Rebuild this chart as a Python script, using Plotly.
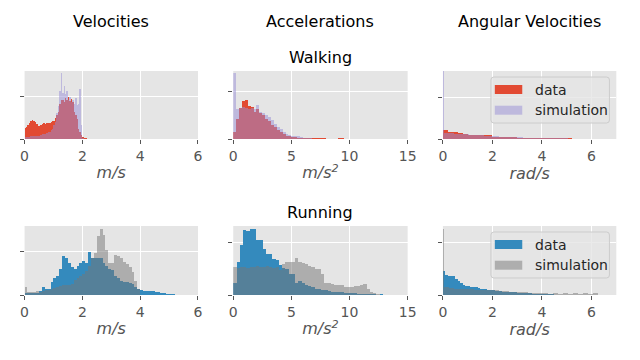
import numpy as np
import plotly.graph_objects as go

# ---------------- data (bar heights in % of each panel's y-range) ----------------
# Walking - velocities (m/s)
walk_vel_edges = np.round(np.arange(0, 44) * 0.05, 3)
walk_vel_data = [16, 18, 20, 24, 27, 28, 26, 25, 22, 19,
                 19, 20, 22, 23, 22, 23, 24, 23, 25, 27,
                 27, 31, 35, 40, 52, 57, 58, 55, 60, 58,
                 62, 56, 59, 55, 40, 36, 30, 15, 10, 6,
                 3, 2, 1]
walk_vel_sim = [3, 3, 3, 3, 4, 4, 4, 4, 4, 5,
                5, 6, 7, 7, 8, 9, 10, 11, 13, 15,
                20, 25, 38, 48, 70, 97, 68, 78, 66, 70,
                58, 62, 55, 58, 52, 60, 50, 52, 74, 20,
                2, 0, 0]

# Walking - accelerations (m/s^2)
walk_acc_edges = np.round(np.arange(0, 41) * 0.25, 3)
walk_acc_data = [10, 30, 45, 56, 57, 48, 47, 40,
                 44, 38, 35, 30, 26, 21, 17, 13,
                 10, 7, 5, 4, 3, 3, 2, 2,
                 2, 1, 1, 1, 1, 1, 1, 1,
                 0, 0, 0, 0, 1, 1, 0, 0]
walk_acc_sim = [97, 44, 45, 47, 45, 44, 46, 44,
                50, 40, 38, 35, 32, 28, 22, 18,
                14, 10, 8, 6, 5, 4, 4, 3,
                2, 1.5, 1, 0.5, 0.5, 0, 0, 0,
                0, 0, 0, 0, 0, 0, 0, 0]

# Walking - angular velocities (rad/s)
walk_ang_data_edges = np.round(np.arange(0, 28) * 0.2, 3)
walk_ang_data = [12.7, 11, 11, 9, 8, 6.5, 6, 6, 6, 5.5,
                 3.5, 3.5, 3.5, 3.5, 2.5, 2, 2, 2, 2, 2,
                 1.2, 1.2, 1.2, 1.2, 1, 1, 0.5]
walk_ang_sim_edges = np.round(np.concatenate([[0], 0.05 + np.arange(0, 27) * 0.2]), 3)
walk_ang_sim = [100, 9, 8.5, 8, 7.5, 7, 6.5, 6, 5.5, 5, 4.5,
                4, 3.5, 3, 3, 2.5, 2.5, 2, 2, 2, 1.5,
                1.5, 1.5, 1, 1, 1, 0.5]

# Running - velocities (m/s)
run_vel_edges = np.round(np.arange(0, 53) * 0.1, 3)
run_vel_data = [2.5, 2.5, 2.5, 3.5, 3.5, 6, 12, 9, 8, 19.5,
                24, 27, 38, 56, 54, 47, 41, 37, 42, 47,
                49, 47, 63, 53, 53, 53, 53, 47, 42, 38,
                36, 28, 24, 21, 19.5, 18.5, 18, 15.6, 12, 8,
                7, 6.5, 6, 5.5, 5.5, 5, 4.5, 3.4, 3.2, 2,
                1.5, 1]
run_vel_sim = [11, 4, 5, 4, 5.5, 5, 6, 7, 7, 8,
               10, 11, 13, 14, 14, 14, 16, 22, 25, 28,
               30, 35, 42, 53, 61, 85, 95, 87, 65, 47,
               47, 58, 57, 53, 48, 45, 40, 33, 20, 8,
               0, 0, 0, 0, 0, 0, 0, 0, 0, 0,
               0, 0]

# Running - accelerations (m/s^2)
run_acc_edges = np.round(np.arange(0, 54) * 0.28, 3)
run_acc_data = [17, 48, 73, 94, 93, 96, 96, 80, 80, 67,
                60, 59, 52, 51, 43, 39, 38, 30, 30, 18,
                20, 17, 15, 13, 11, 9, 8, 7, 7, 5.5,
                5, 4.5, 4.4, 4, 3.4, 3.4, 3.4, 3, 2, 2,
                2, 1.2, 1.2, 1, 0.5, 1, 0, 0.6, 0, 0.6,
                0, 0.6, 0]
run_acc_sim = [40, 39, 40, 40, 39, 40, 41, 42, 40, 41,
               42, 41, 39, 40, 36, 45, 48, 48, 48, 54,
               48, 46, 45, 42, 40, 38, 38, 30, 18, 18,
               16, 15, 15, 15, 12, 11, 11, 13, 13, 14,
               15.6, 8, 4.4, 2.4, 1.5, 0.5, 0.5, 0, 0, 0,
               0, 0, 0]

# Running - angular velocities (rad/s)
run_ang_data_edges = np.round(np.arange(0, 47) * 0.1, 3)
run_ang_data = [35, 29, 28, 28, 27, 23, 20, 17, 15, 13,
                13, 11, 11, 11, 10, 9, 9, 8, 7, 7,
                7, 6, 6, 6, 5, 4.5, 4.4, 4.4, 4, 4,
                3, 3, 3, 3, 3, 3,
                2, 2, 2, 2, 2,
                1, 1, 1, 1,
                0.5]
run_ang_sim_edges = np.round(np.concatenate([[0], 0.05 + np.arange(0, 32) * 0.2]), 3)
run_ang_sim = [95, 11, 10.5, 9, 8, 8, 8, 7.5, 7.5, 7, 7,
               7, 6, 6, 5, 4.5, 4, 4, 3.5, 3, 3,
               2.5, 1, 2.5, 1, 2.5, 1, 2.5, 1, 2.5, 1, 2.5]

col_titles = ["Velocities", "Accelerations", "Angular Velocities"]
row_titles = ["Walking", "Running"]
x_labels = ["<i>m/s</i>", "<i>m/s<sup>2</sup></i>", "<i>rad/s</i>"]
x_ranges = [[0, 6], [0, 15], [0, 7]]
x_ticks = [[0, 2, 4, 6], [0, 5, 10, 15], [0, 2, 4, 6]]
y_grid = [62, 70, 61, 63, 76, 76]
legend_labels = ["data", "simulation"]

panels = [
    (walk_vel_edges, walk_vel_data, walk_vel_edges, walk_vel_sim),
    (walk_acc_edges, walk_acc_data, walk_acc_edges, walk_acc_sim),
    (walk_ang_data_edges, walk_ang_data, walk_ang_sim_edges, walk_ang_sim),
    (run_vel_edges, run_vel_data, run_vel_edges, run_vel_sim),
    (run_acc_edges, run_acc_data, run_acc_edges, run_acc_sim),
    (run_ang_data_edges, run_ang_data, run_ang_sim_edges, run_ang_sim),
]

# ---------------- styling ----------------
W, H = 640, 360
FONT = "DejaVu Sans"
BG = "#E5E5E5"
DATA_COLORS = ["#E24A33", "#348ABD"]
SIM_COLORS = ["#988ED5", "#777777"]
SIM_OPACITY = 0.5


def px_x(v):
    return v / W


def px_y(v):
    return 1 - v / H


col_px = [(21, 198), (234, 412), (448, 625)]
row_px = [(71, 139), (226, 295)]

fig = go.Figure()

for p, (de, dv, se, sv) in enumerate(panels):
    r, c = divmod(p, 3)
    ax = "" if p == 0 else str(p + 1)
    de = np.asarray(de, dtype=float)
    se = np.asarray(se, dtype=float)
    fig.add_trace(go.Bar(
        x=de[:-1], y=dv, width=np.diff(de), offset=0,
        marker=dict(color=DATA_COLORS[r], line=dict(width=0)),
        name=legend_labels[0], showlegend=False,
        xaxis="x" + ax, yaxis="y" + ax))
    fig.add_trace(go.Bar(
        x=se[:-1], y=sv, width=np.diff(se), offset=0,
        marker=dict(color=SIM_COLORS[r], line=dict(width=0)),
        opacity=SIM_OPACITY,
        name=legend_labels[1], showlegend=False,
        xaxis="x" + ax, yaxis="y" + ax))

    x0, x1 = col_px[c]
    y0, y1 = row_px[r]
    fig.layout["xaxis" + ax] = dict(
        domain=[px_x(x0), px_x(x1)], anchor="y" + ax,
        range=x_ranges[c], tickvals=x_ticks[c],
        showgrid=True, gridcolor="white", gridwidth=1,
        zeroline=False, showline=False,
        ticks="outside", ticklen=4, tickcolor="#555555", tickwidth=1,
        tickfont=dict(family=FONT, size=14, color="#555555"),
        title=dict(text=x_labels[c], standoff=4,
                   font=dict(family=FONT, size=16, color="#555555")),
        fixedrange=True,
    )
    fig.layout["yaxis" + ax] = dict(
        domain=[px_y(y1), px_y(y0)], anchor="x" + ax,
        range=[0, 100], tickvals=[0, y_grid[p]], showticklabels=False,
        showgrid=True, gridcolor="white", gridwidth=1,
        zeroline=False, showline=False,
        ticks="outside", ticklen=4, tickcolor="#555555", tickwidth=1,
        fixedrange=True,
    )

annotations = []
col_centers = [109.5, 323, 536.5]
for c, t in enumerate(col_titles):
    annotations.append(dict(text=t, x=px_x(col_centers[c]), y=px_y(21),
                            xref="paper", yref="paper", showarrow=False,
                            xanchor="center", yanchor="middle",
                            font=dict(family=FONT, size=16, color="#000000")))
for r, (t, yc) in enumerate(zip(row_titles, [57, 212])):
    annotations.append(dict(text=t, x=px_x(323), y=px_y(yc),
                            xref="paper", yref="paper", showarrow=False,
                            xanchor="center", yanchor="middle",
                            font=dict(family=FONT, size=16, color="#000000")))

shapes = []


def rounded_rect(x0, y0, x1, y1, rad):
    def P(x, y):
        return f"{px_x(x):.5f},{px_y(y):.5f}"
    return (f"M {P(x0 + rad, y0)} L {P(x1 - rad, y0)} Q {P(x1, y0)} {P(x1, y0 + rad)} "
            f"L {P(x1, y1 - rad)} Q {P(x1, y1)} {P(x1 - rad, y1)} "
            f"L {P(x0 + rad, y1)} Q {P(x0, y1)} {P(x0, y1 - rad)} "
            f"L {P(x0, y0 + rad)} Q {P(x0, y0)} {P(x0 + rad, y0)} Z")


legend_boxes = [(497, 77, 618, 123), (497, 232, 618, 278)]
for r, (bx0, by0, bx1, by1) in enumerate(legend_boxes):
    shapes.append(dict(type="path", path=rounded_rect(bx0, by0, bx1, by1, 3),
                       xref="paper", yref="paper",
                       fillcolor="rgba(229,229,229,0.8)",
                       line=dict(color="#CCCCCC", width=1), layer="above"))
    for i, (color, op) in enumerate([(DATA_COLORS[r], 1.0), (SIM_COLORS[r], SIM_OPACITY)]):
        sy0 = by0 + 8 + i * 20.7
        shapes.append(dict(type="rect", xref="paper", yref="paper",
                           x0=px_x(501), x1=px_x(529), y0=px_y(sy0), y1=px_y(sy0 + 9),
                           fillcolor=color, opacity=op, line=dict(width=0), layer="above"))
        annotations.append(dict(text=legend_labels[i], x=px_x(540), y=px_y(sy0 + 4.5),
                                xref="paper", yref="paper", showarrow=False,
                                xanchor="left", yanchor="middle",
                                font=dict(family=FONT, size=14, color="#262626")))

fig.update_layout(
    width=W, height=H, autosize=False,
    margin=dict(l=0, r=0, t=0, b=0),
    paper_bgcolor="white", plot_bgcolor=BG,
    barmode="overlay", bargap=0,
    showlegend=False,
    annotations=annotations, shapes=shapes,
    font=dict(family=FONT),
)

fig.write_html("out.html",
               config={"displayModeBar": False, "responsive": False, "staticPlot": True},
               post_script="document.body.style.margin='0px';document.body.style.overflow='hidden';")
